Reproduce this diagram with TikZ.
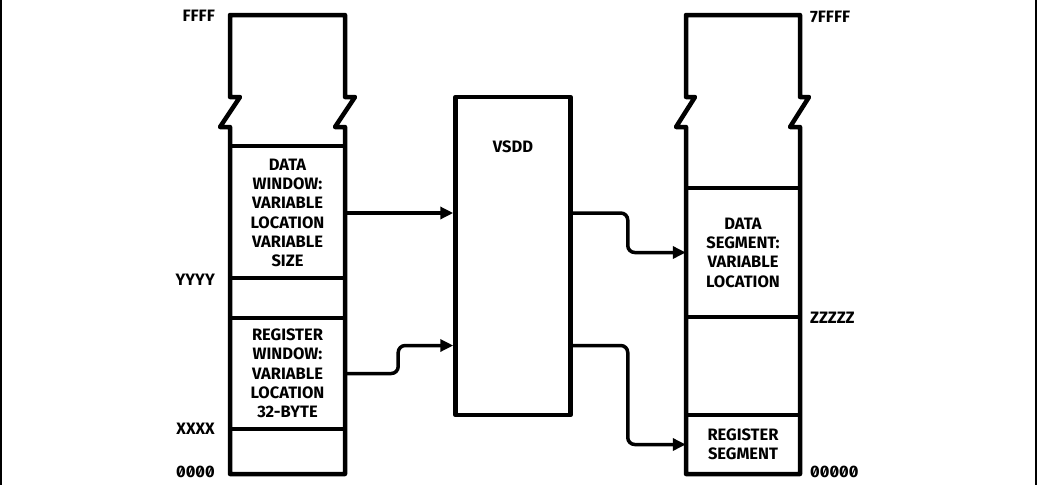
\documentclass[tikz,border=0pt]{standalone}
\usepackage{fontspec}
\setmainfont{Fira Sans}[Numbers=SlashedZero]
\usetikzlibrary{positioning,arrows.meta}
\newcommand\DiagFont{\fontsize{16.5}{19.3}\selectfont\bfseries}
\tikzset{
  memline/.style={
    line width=4.5pt,
    line join=round
  },
  sepline/.style={
    line width=3.5pt
  },
  cell/.style={
    minimum width=115pt,
    inner sep=0pt,
    align=center,
    font=\DiagFont
  },
  addrL/.style={
    anchor=east,
    inner sep=0pt,
    font=\DiagFont
  },
  addrR/.style={
    anchor=west,
    inner sep=0pt,
    font=\DiagFont
  },
  flow/.style={
    line width=3.5pt,
    rounded corners=7pt,
    -{Triangle[length=13pt,width=12pt]}
  },
}

\begin{document}
\begin{tikzpicture}[x=1pt,y=-1pt]
    \useasboundingbox (0,0) rectangle (1040,485);
    \draw[line width=1.5pt] (1,0) -- (1,485);
    \draw[line width=1.5pt] (1036,0) -- (1036,485);

    % left column (window)
    \draw[memline] (230,97) -- (230,15) -- (345,15) -- (345,97) -- (355,97) -- (335,127) -- (345,127)
        -- (345,474) -- (230,474) -- (230,127) -- (220,127) -- (240,97) -- cycle;
    \draw[sepline] (230,146) -- (345,146);
    \draw[sepline] (230,278) -- (345,278);
    \draw[sepline] (230,318) -- (345,318);
    \draw[sepline] (230,429) -- (345,429);
    \node[cell, minimum height=132pt] (dwin) at (287.5,213) {DATA\\WINDOW:\\VARIABLE\\LOCATION\\VARIABLE\\SIZE};
    \node[cell, minimum height=111pt] (rwin) at (287.5,373.5) {REGISTER\\WINDOW:\\VARIABLE\\LOCATION\\32-BYTE};
    \node[addrL] (ffff) at (215,16) {FFFF};
    \node[addrL] (yyyy) at (215,280) {YYYY};
    \node[addrL] (xxxx) at (215,429) {XXXX};
    \node[addrL] (zero) at (215,472) {0000};

    % translation box
    \node[memline, draw, minimum width=115pt, minimum height=318pt,
        label={[font=\DiagFont, anchor=center, yshift=-52pt]north:VSDD}] (vsdd) at (513,256) {};

    % right column (segment)
    \draw[memline] (686,97) -- (686,15) -- (800,15) -- (800,97) -- (809,97) -- (790,127) -- (800,127)
        -- (800,474) -- (686,474) -- (686,127) -- (676,127) -- (695,97) -- cycle;
    \draw[sepline] (686,188) -- (800,188);
    \draw[sepline] (686,317) -- (800,317);
    \draw[sepline] (686,415) -- (800,415);
    \node[cell, minimum width=114pt, minimum height=129pt] (dseg) at (743,252.5) {DATA\\SEGMENT:\\VARIABLE\\LOCATION};
    \node[cell, minimum width=114pt, minimum height=59pt] (rseg) at (743,444.5) {REGISTER\\SEGMENT};
    \node[addrR] (sevenf) at (810,17) {7FFFF};
    \node[addrR] (zzzzz) at (810,318) {ZZZZZ};
    \node[addrR] (zeros) at (810,472) {00000};

    % connectors
    \draw[flow] (dwin.east) -- (dwin.east -| vsdd.west);
    \draw[flow] (rwin.east) -- ++(53,0) |- ([yshift=28pt]rwin.east -| vsdd.west);
    \draw[flow] (dwin.east -| vsdd.east) -- ++(55,0) |- (dseg.west);
    \draw[flow] ([yshift=28pt]rwin.east -| vsdd.east) -- ++(55,0) |- (rseg.west);
\end{tikzpicture}
\end{document}
